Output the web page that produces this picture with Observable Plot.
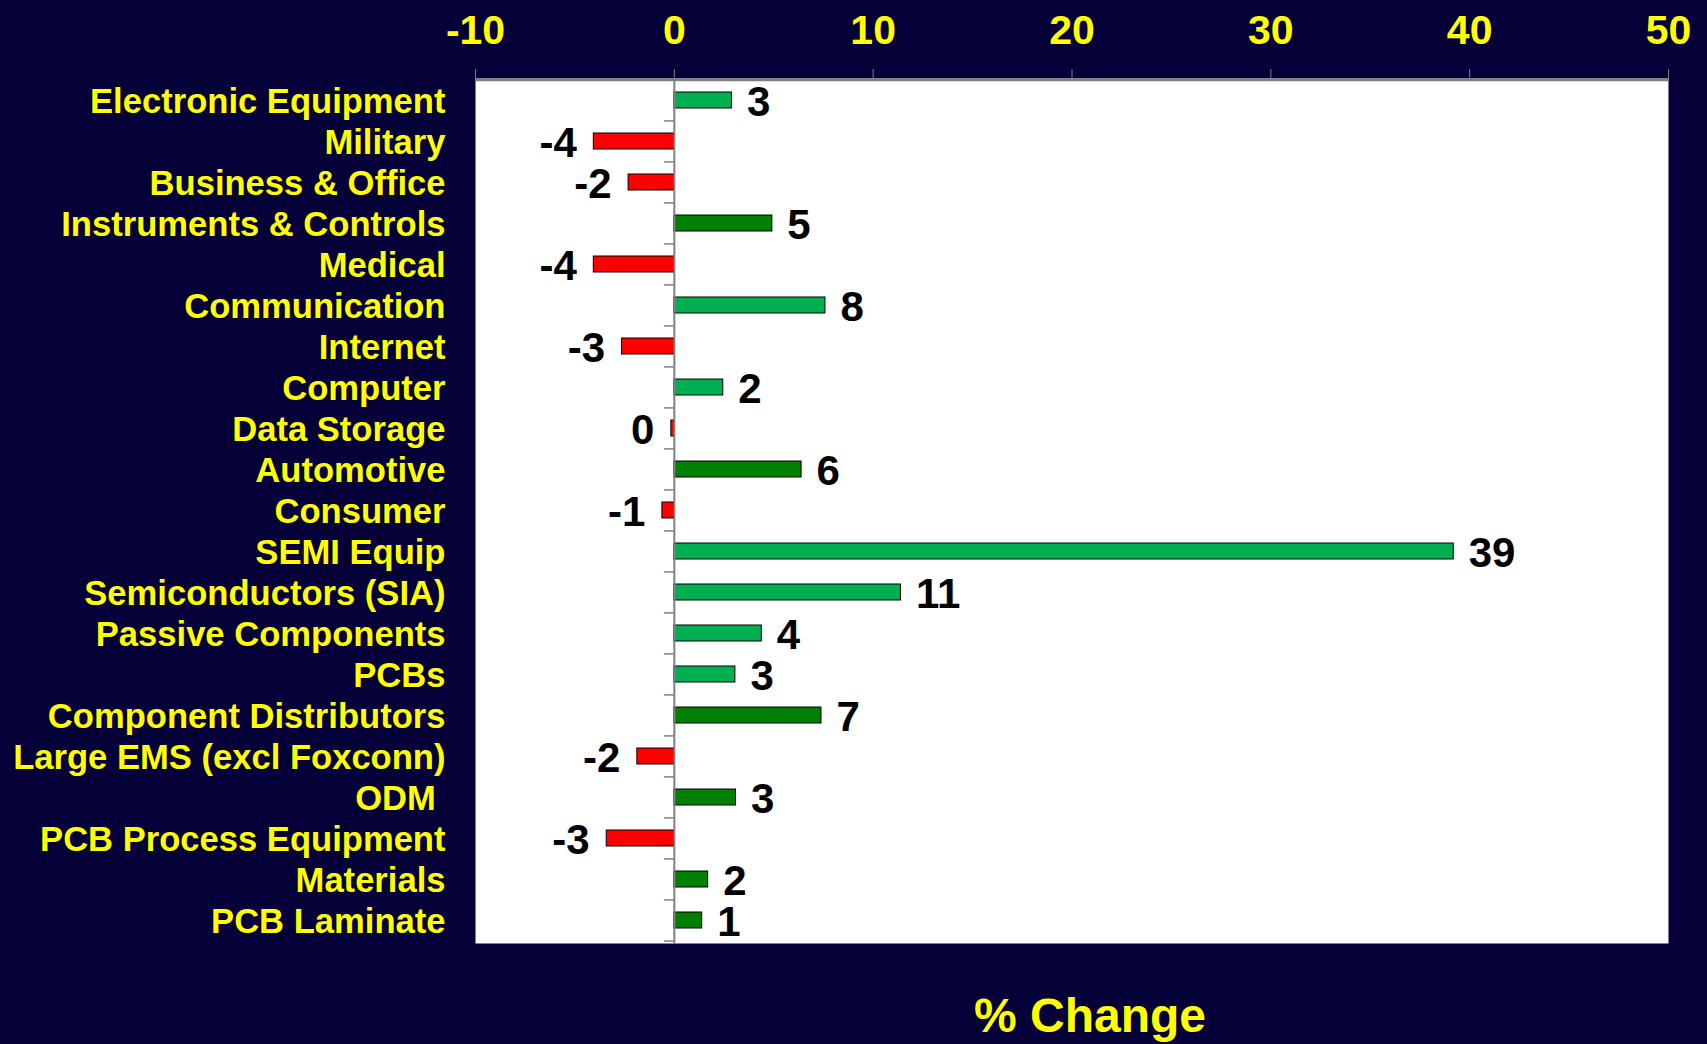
<!DOCTYPE html>
<html>
<head>
<meta charset="utf-8">
<script src="https://cdn.jsdelivr.net/npm/d3@7"></script>
<script src="https://cdn.jsdelivr.net/npm/@observablehq/plot@0.6"></script>
<style>
  html, body { margin: 0; padding: 0; background: #050038; overflow: hidden; }
  #chart svg { display: block; }
</style>
</head>
<body>
<div id="chart"></div>
<script>
const categories = [
  "Electronic Equipment", "Military", "Business & Office", "Instruments & Controls",
  "Medical", "Communication", "Internet", "Computer", "Data Storage", "Automotive",
  "Consumer", "SEMI Equip", "Semiconductors (SIA)", "Passive Components", "PCBs",
  "Component Distributors", "Large EMS (excl Foxconn)", "ODM\u00a0", "PCB Process Equipment",
  "Materials", "PCB Laminate"
];
const values = [2.9, -4.05, -2.3, 4.93, -4.05, 7.6, -2.63, 2.46, -0.15, 6.4,
  -0.6, 39.2, 11.4, 4.4, 3.07, 7.4, -1.86, 3.1, -3.4, 1.7, 1.4];
const shades = ["light", "light", "light", "dark", "light", "light", "light", "light", "light", "dark",
  "light", "light", "light", "light", "light", "dark", "light", "dark", "light", "dark", "dark"];
const xTicks = [-10, 0, 10, 20, 30, 40, 50];
const xTitle = "% Change";

const palette = {light: "#00B050", dark: "#008000", negative: "#FF0000"};
const data = categories.map((c, i) => ({category: c, value: values[i], shade: shades[i]}));

const W = 1707, H = 1044, mt = 78, mb = 101, ml = 475, mr = 39;
const step = (H - mt - mb) / categories.length;
const gray = "#808080";
const yellow = "#FFFF00";

const chart = Plot.plot({
  width: W, height: H,
  marginLeft: ml, marginRight: mr, marginTop: mt, marginBottom: mb,
  style: {background: "#050038", fontFamily: "Arial, 'Liberation Sans', sans-serif", fontWeight: "bold"},
  x: {domain: [-10, 50]},
  y: {domain: categories, paddingInner: 0.6, paddingOuter: 0.3},
  color: {type: "identity"},
  marks: [
    Plot.frame({fill: "white", stroke: "none"}),
    Plot.barX(data, {
      x: "value", y: "category",
      fill: d => d.value < 0 ? palette.negative : palette[d.shade],
      stroke: "#000", strokeWidth: 1
    }),
    Plot.ruleX([0], {stroke: gray, strokeWidth: 2}),
    Plot.ruleY([categories[0]], {y: d => d, dy: -step / 2, stroke: gray, strokeWidth: 2.5}),
    Plot.ruleY(categories, {y: d => d, x1: -0.5, x2: 0, dy: -step / 2, stroke: gray, strokeWidth: 1.5}),
    Plot.ruleY([categories[categories.length - 1]], {y: d => d, x1: -0.5, x2: 0, dy: step / 2, stroke: gray, strokeWidth: 1.5}),
    Plot.text(data, {
      filter: d => d.value >= 0, x: "value", y: "category",
      text: d => String(Math.round(d.value) + 0),
      textAnchor: "start", dx: 15, dy: 2, fontSize: 42, fill: "#000"
    }),
    Plot.text(data, {
      filter: d => d.value < 0, x: "value", y: "category",
      text: d => String(Math.round(d.value) + 0),
      textAnchor: "end", dx: -17, dy: 2, fontSize: 42, fill: "#000"
    }),
    Plot.axisX({
      anchor: "top", ticks: xTicks, tickFormat: d => String(d),
      tickSize: 10, tickPadding: 25, fontSize: 41,
      stroke: gray, fill: yellow, label: null
    }),
    Plot.axisY({
      anchor: "left", tickSize: 0, tickPadding: 30, fontSize: 34.6, dy: 1,
      fill: yellow, label: null
    }),
    Plot.text([xTitle], {
      frameAnchor: "bottom", dx: 18, dy: 88, lineAnchor: "bottom",
      fontSize: 48, fill: yellow
    })
  ]
});
document.getElementById("chart").appendChild(chart);
</script>
</body>
</html>
